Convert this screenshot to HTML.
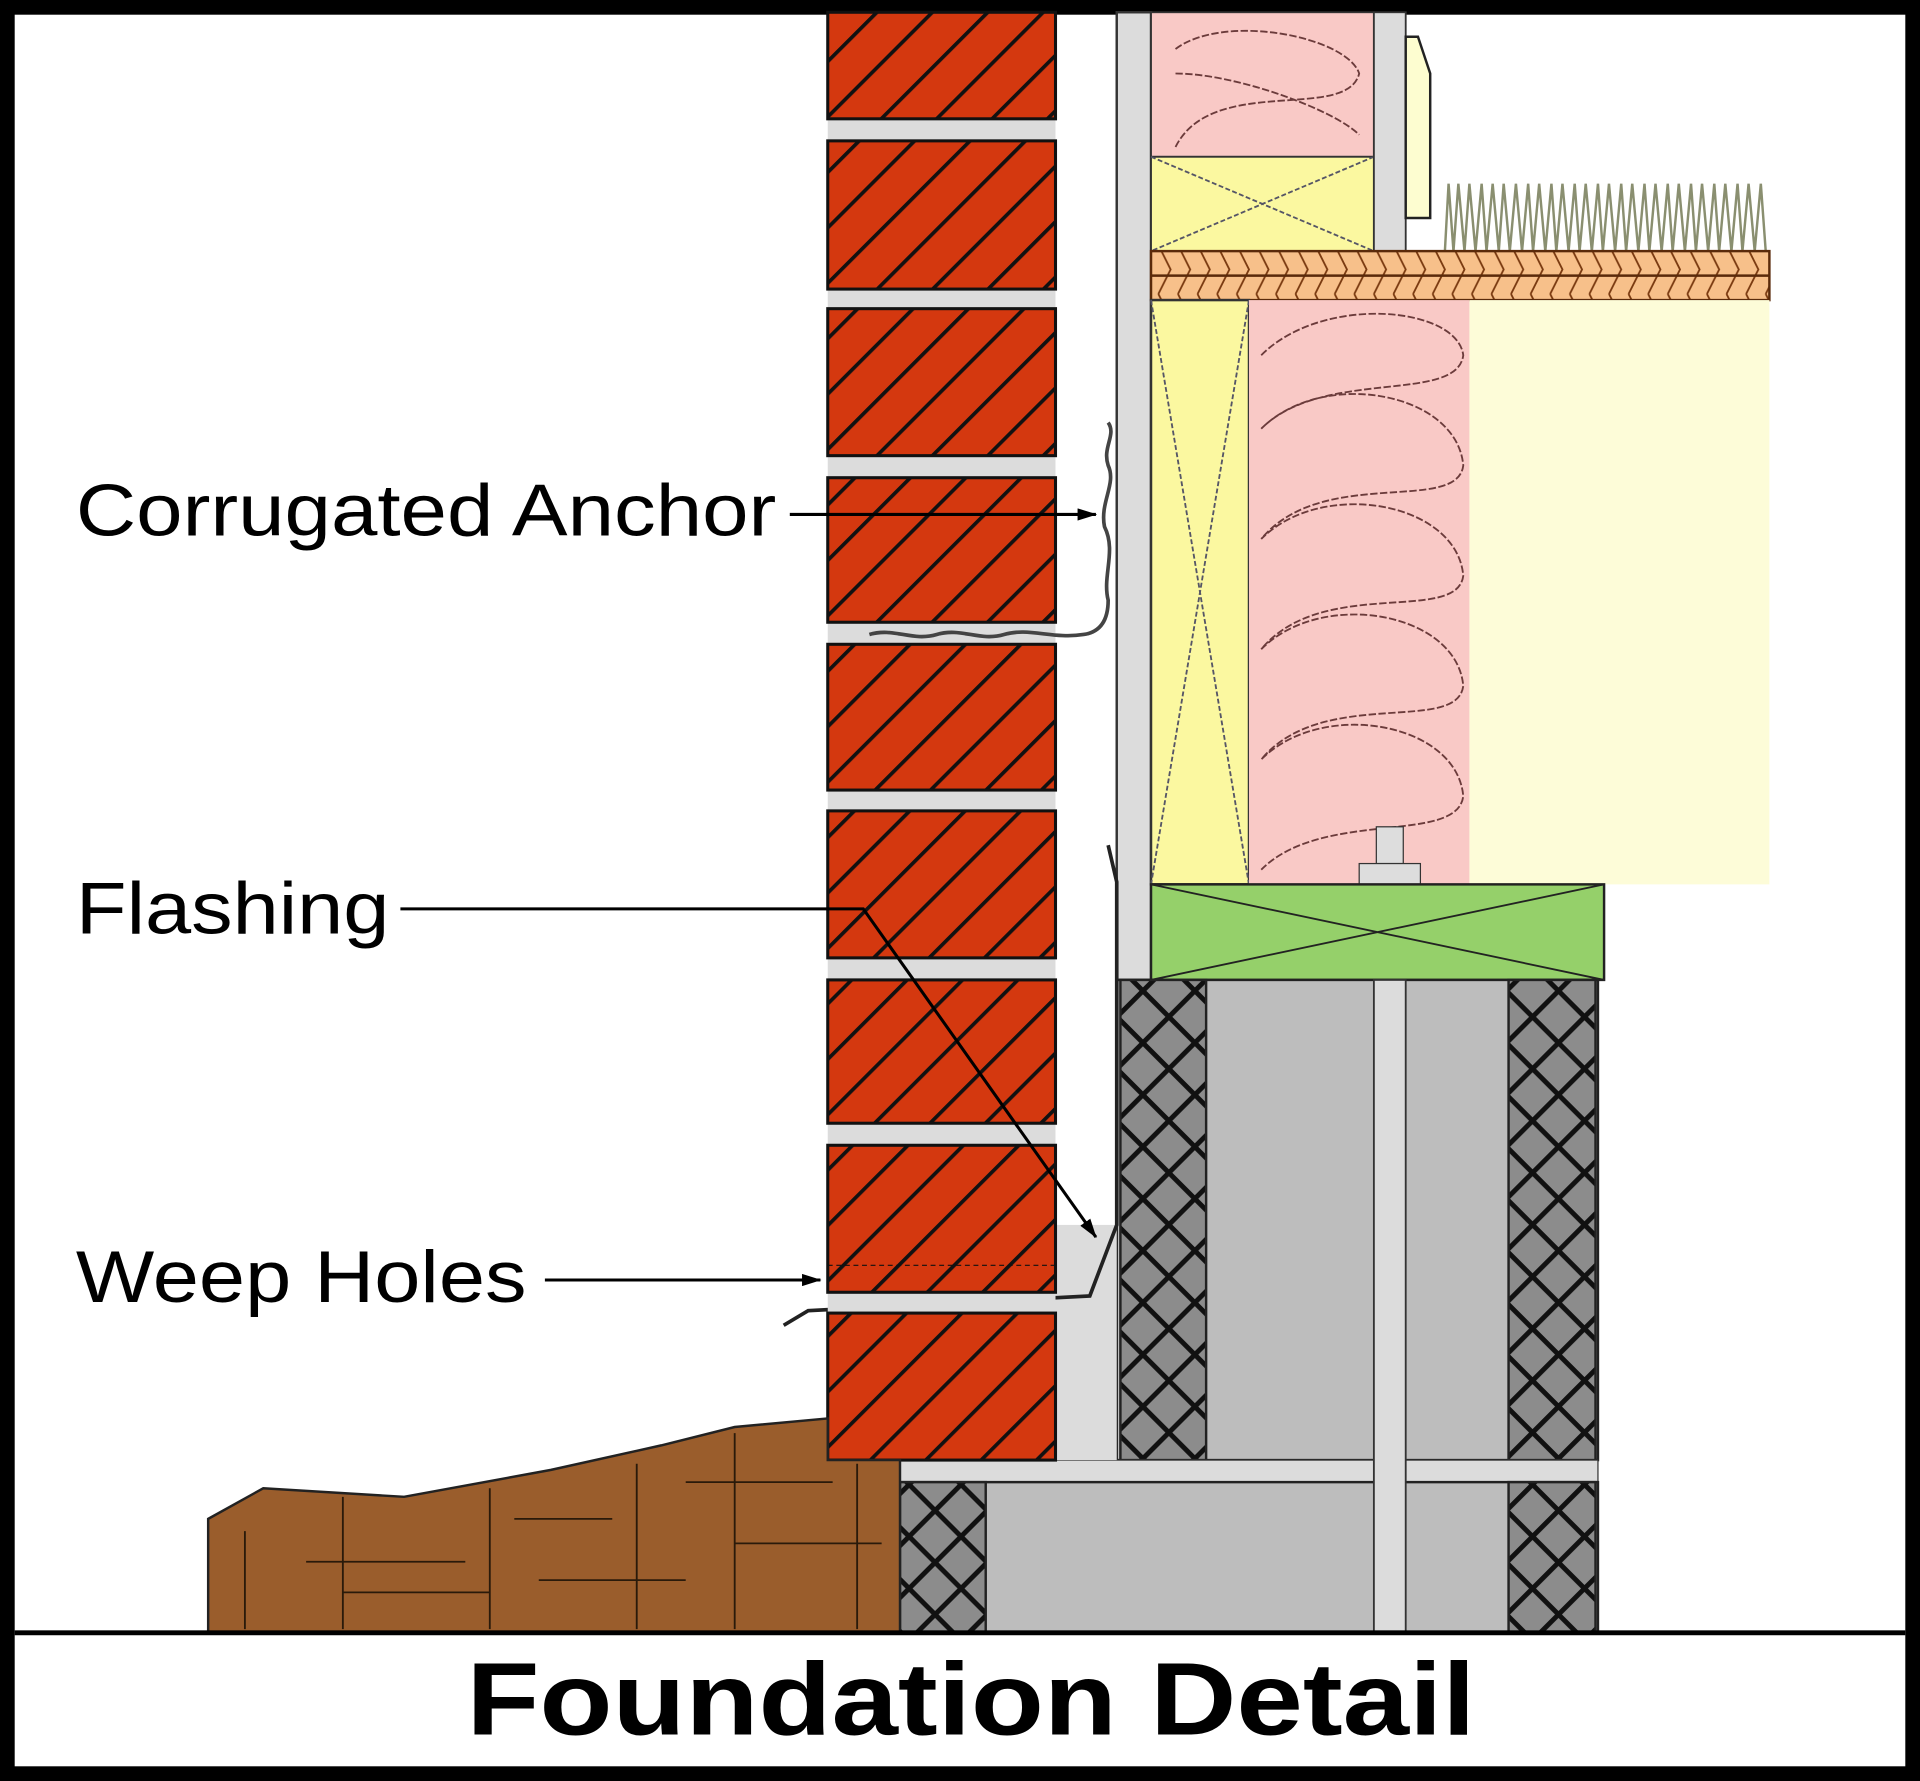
<!DOCTYPE html>
<html><head><style>html,body{margin:0;padding:0;background:#fff}svg{display:block}</style></head>
<body>
<svg width="1920" height="1781" viewBox="0 0 1568 1454" preserveAspectRatio="none" xmlns="http://www.w3.org/2000/svg">
<defs>
<pattern id="brk" width="32" height="32" patternUnits="userSpaceOnUse" patternTransform="rotate(45)">
<rect width="32" height="32" fill="#d4380f"/><rect x="0" width="3" height="32" fill="#111"/></pattern>
<pattern id="xh" width="30" height="30" patternUnits="userSpaceOnUse" patternTransform="rotate(45)">
<rect width="30" height="30" fill="#8c8c8c"/><rect width="4" height="30" fill="#111"/><rect width="30" height="4" fill="#111"/></pattern>
<pattern id="chev" width="16" height="40" patternUnits="userSpaceOnUse">
<rect width="16" height="40" fill="#f7c08a"/><path d="M2 0 L12 20 L2 40" stroke="#7a3a10" stroke-width="1.5" fill="none"/></pattern>
<marker id="ar" markerWidth="16" markerHeight="10" refX="15" refY="5" orient="auto" markerUnits="userSpaceOnUse"><path d="M0 0 L16 5 L0 10 Z" fill="#000"/></marker>
</defs>
<rect width="1568" height="1454" fill="#000"/>
<rect x="12" y="12" width="1544" height="1430" fill="#fff"/>
<rect x="912" y="10" width="28" height="790" fill="#dcdcdc" stroke="#333" stroke-width="2"/>
<rect x="940" y="10" width="182" height="118" fill="#f9c9c6" stroke="#333" stroke-width="1.5"/>
<path d="M960 40 C1000 10 1100 30 1110 60 C1100 100 990 60 960 120 M960 60 C1010 60 1090 90 1110 110" stroke="#6b3b3b" stroke-width="1.5" fill="none" stroke-dasharray="6 2"/>
<rect x="940" y="128" width="182" height="77" fill="#fbf8a0" stroke="#333" stroke-width="1.5"/>
<path d="M940 128 L1122 205 M1122 128 L940 205" stroke="#556" stroke-width="1.5" stroke-dasharray="4 2"/>
<rect x="1122" y="10" width="26" height="195" fill="#dcdcdc" stroke="#333" stroke-width="1.5"/>
<path d="M1148 30 L1158 30 L1168 60 L1168 178 L1148 178 Z" fill="#fdfdd0" stroke="#222" stroke-width="2"/>
<g stroke="#8a8f70" stroke-width="2" fill="none"><path d="M1180 205 L1183 150 L1187 205 L1191 150 L1196 205 L1200 150 L1205 205 L1210 150 L1214 205 L1219 150 L1224 205 L1228 150 L1233 205 L1238 150 L1243 205 L1248 150 L1252 205 L1257 150 L1262 205 L1267 150 L1271 205 L1276 150 L1281 205 L1286 150 L1290 205 L1295 150 L1300 205 L1305 150 L1309 205 L1314 150 L1319 205 L1324 150 L1328 205 L1333 150 L1338 205 L1343 150 L1347 205 L1352 150 L1357 205 L1362 150 L1366 205 L1371 150 L1376 205 L1381 150 L1385 205 L1390 150 L1395 205 L1400 150 L1404 205 L1409 150 L1414 205 L1419 150 L1423 205 L1428 150 L1433 205 L1438 150 L1442 205"/></g>
<rect x="940" y="205" width="505" height="40" fill="url(#chev)" stroke="#5a2a0a" stroke-width="2"/>
<line x1="940" y1="225" x2="1445" y2="225" stroke="#5a2a0a" stroke-width="2"/>
<rect x="1200" y="245" width="245" height="477" fill="#fdfcd8"/>
<rect x="940" y="245" width="80" height="477" fill="#fbf8a0" stroke="#333" stroke-width="2"/>
<path d="M940 245 L1020 722 M1020 245 L940 722" stroke="#556" stroke-width="1.5" stroke-dasharray="4 2"/>
<rect x="1020" y="245" width="180" height="477" fill="#f9c9c6"/>
<path d="M1030 290 C1080 240 1190 250 1195 290 C1190 330 1080 300 1030 350 C1080 300 1190 320 1195 380 C1190 420 1080 380 1030 440 C1080 390 1190 410 1195 470 C1190 510 1080 470 1030 530 C1080 480 1190 500 1195 560 C1190 600 1080 560 1030 620 C1080 570 1190 590 1195 650 C1190 690 1080 660 1030 710" stroke="#6b3b3b" stroke-width="1.5" fill="none" stroke-dasharray="6 2"/>
<rect x="1124" y="675" width="22" height="30" fill="#ddd" stroke="#333"/>
<rect x="1110" y="705" width="50" height="17" fill="#ddd" stroke="#333"/>
<rect x="940" y="722" width="370" height="78" fill="#95d06a" stroke="#222" stroke-width="2"/>
<path d="M940 722 L1310 800 M1310 722 L940 800" stroke="#222" stroke-width="1.5"/>
<rect x="912" y="800" width="393" height="392" fill="#bdbdbd" stroke="#222" stroke-width="2"/>
<rect x="915" y="800" width="70" height="392" fill="url(#xh)" stroke="#222" stroke-width="2"/>
<rect x="1232" y="800" width="71" height="392" fill="url(#xh)" stroke="#222" stroke-width="2"/>
<rect x="735" y="1192" width="570" height="18" fill="#dcdcdc" stroke="#333"/>
<rect x="735" y="1210" width="570" height="123" fill="#bdbdbd" stroke="#222" stroke-width="2"/>
<rect x="735" y="1210" width="70" height="123" fill="url(#xh)" stroke="#222" stroke-width="2"/>
<rect x="1232" y="1210" width="71" height="123" fill="url(#xh)" stroke="#222" stroke-width="2"/>
<rect x="1122" y="800" width="26" height="533" fill="#dcdcdc" stroke="#333" stroke-width="1.5"/>
<rect x="862" y="1000" width="50" height="192" fill="#dcdcdc"/>
<path d="M905 690 L912 720 L912 1000 L890 1058 L660 1070 L640 1082" stroke="#222" stroke-width="3" fill="none"/>
<rect x="676" y="10" width="186" height="1182" fill="#dcdcdc"/>
<g fill="url(#brk)" stroke="#111" stroke-width="2.5">
<rect x="676" y="10" width="186" height="87"/><rect x="676" y="115" width="186" height="121"/><rect x="676" y="252" width="186" height="120"/><rect x="676" y="390" width="186" height="118"/><rect x="676" y="526" width="186" height="119"/><rect x="676" y="662" width="186" height="120"/><rect x="676" y="800" width="186" height="117"/><rect x="676" y="935" width="186" height="120"/><rect x="676" y="1072" width="186" height="120"/></g>
<line x1="676" y1="1033" x2="862" y2="1033" stroke="#111" stroke-width="1" stroke-dasharray="4 3"/>
<path d="M170 1240 L215 1215 L330 1222 L450 1200 L540 1180 L600 1165 L676 1158 L676 1192 L735 1192 L735 1333 L170 1333 Z" fill="#9a5d2c" stroke="#222" stroke-width="2"/>
<g stroke="#2a1a0a" stroke-width="1.5"><path d="M200 1250 V1330 M280 1222 V1330 M400 1215 V1330 M520 1195 V1330 M600 1170 V1330 M700 1195 V1330 M250 1275 H380 M420 1240 H500 M560 1210 H680 M280 1300 H400 M440 1290 H560 M600 1260 H720"/></g>
<path d="M710 518 C730 512 745 524 765 518 C785 512 800 524 820 518 C840 512 860 522 885 518 Q905 515 905 490 C900 470 912 450 902 430 C898 410 912 395 905 380 C900 365 912 355 905 345" stroke="#444" stroke-width="3" fill="none"/>
<g font-family="Liberation Sans, sans-serif" font-size="60" fill="#000">
<text x="62" y="437" textLength="572" lengthAdjust="spacingAndGlyphs">Corrugated Anchor</text>
<text x="62" y="762" textLength="256" lengthAdjust="spacingAndGlyphs">Flashing</text>
<text x="62" y="1063" textLength="368" lengthAdjust="spacingAndGlyphs">Weep Holes</text>
</g>
<g stroke="#000" stroke-width="2.5" fill="none">
<line x1="645" y1="420" x2="895" y2="420" marker-end="url(#ar)"/>
<path d="M327 742 L705 742 L895 1010" marker-end="url(#ar)"/>
<line x1="445" y1="1045" x2="670" y2="1045" marker-end="url(#ar)"/>
</g>
<rect x="12" y="1331" width="1544" height="4" fill="#000"/>
<text x="381" y="1416" textLength="824" lengthAdjust="spacingAndGlyphs" font-family="Liberation Sans, sans-serif" font-weight="bold" font-size="84" fill="#000">Foundation Detail</text>
</svg>
</body></html>
